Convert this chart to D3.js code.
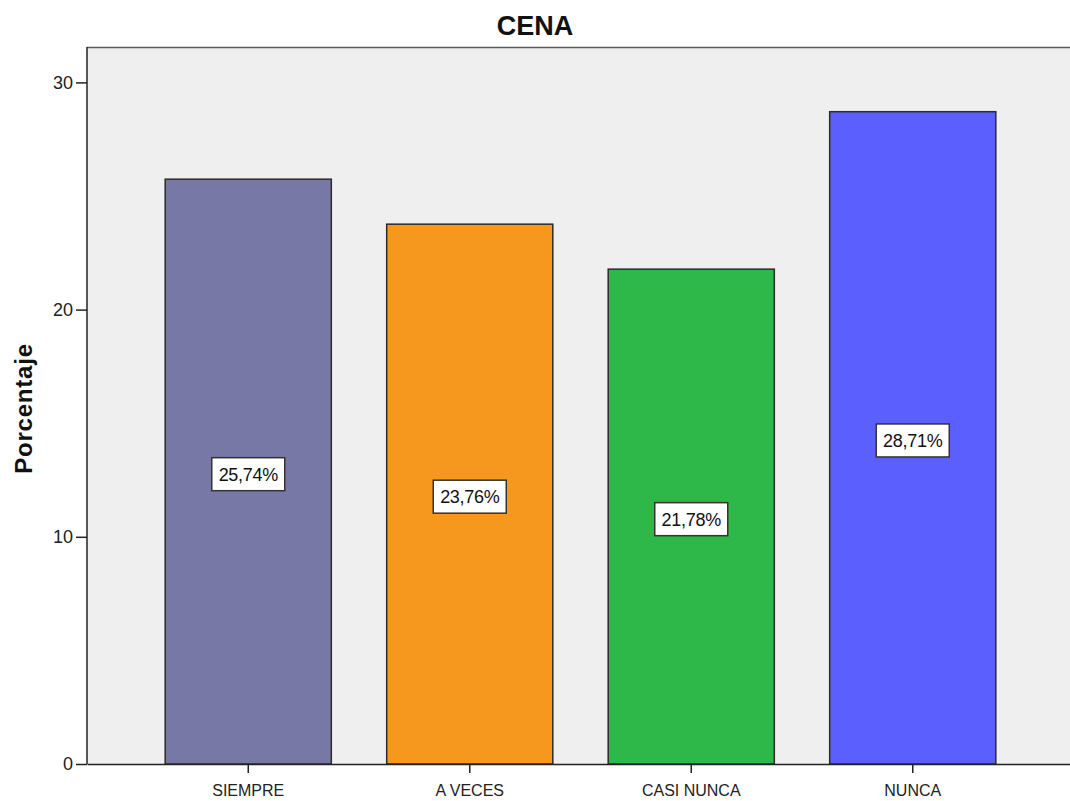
<!DOCTYPE html>
<html>
<head>
<meta charset="utf-8">
<script src="https://cdn.jsdelivr.net/npm/d3@7"></script>
<style>
  html, body { margin: 0; padding: 0; background: #ffffff; }
  svg { display: block; font-family: "Liberation Sans", Arial, sans-serif; }
</style>
</head>
<body>
<svg id="chart" width="1070" height="801"></svg>
<script>
// Cena: frequency distribution (percent)
const categories = ["SIEMPRE", "A VECES", "CASI NUNCA", "NUNCA"];
const percentages = [25.74, 23.76, 21.78, 28.71];
const barColors = ["#7878a6", "#f7981e", "#2fb84a", "#5b5ffe"];
const yTicks = [0, 10, 20, 30];

const svg = d3.select("#chart");
const plot = { left: 87, top: 47, right: 1074, bottom: 764 };

const x = d3.scaleBand()
  .domain(categories)
  .range([plot.left, plot.right])
  .paddingInner(0.25)
  .paddingOuter(0.353);

const y = d3.scaleLinear()
  .domain([0, 30])
  .range([plot.bottom, plot.bottom - 30 * 22.72]);

// plot background
svg.append("rect")
  .attr("x", plot.left).attr("y", plot.top)
  .attr("width", plot.right - plot.left).attr("height", plot.bottom - plot.top)
  .attr("fill", "#efefef");

// top frame line
svg.append("line")
  .attr("x1", plot.left).attr("x2", plot.right)
  .attr("y1", plot.top + 0.5).attr("y2", plot.top + 0.5)
  .attr("stroke", "#5a5a5a").attr("stroke-width", 1.5);

// bars
svg.append("g").selectAll("rect")
  .data(categories)
  .join("rect")
  .attr("x", d => x(d))
  .attr("y", (d, i) => y(percentages[i]))
  .attr("width", x.bandwidth())
  .attr("height", (d, i) => y(0) - y(percentages[i]))
  .attr("fill", (d, i) => barColors[i])
  .attr("stroke", "#2b2b2b")
  .attr("stroke-width", 1.5);

// y axis
const yAxis = svg.append("g")
  .attr("transform", `translate(${plot.left},0)`)
  .call(d3.axisLeft(y).tickValues(yTicks).tickSize(11).tickSizeOuter(0).tickFormat(d3.format("d")));
yAxis.select(".domain").attr("stroke", "#222").attr("stroke-width", 1.5)
  .attr("d", `M0,${plot.top}V${plot.bottom}`);
yAxis.selectAll(".tick line").attr("stroke", "#222").attr("stroke-width", 1.5);
yAxis.selectAll(".tick text")
  .attr("font-size", 18).attr("fill", "#222")
  .attr("font-family", "'Liberation Sans', Arial, sans-serif")
  .attr("x", -14);

// x axis
const xAxis = svg.append("g")
  .attr("transform", `translate(0,${plot.bottom})`)
  .call(d3.axisBottom(x).tickSize(9).tickSizeOuter(0));
xAxis.select(".domain").attr("stroke", "#222").attr("stroke-width", 1.5);
xAxis.selectAll(".tick line").attr("stroke", "#222").attr("stroke-width", 1.5);
xAxis.selectAll(".tick text")
  .attr("font-size", 16).attr("fill", "#222")
  .attr("font-family", "'Liberation Sans', Arial, sans-serif")
  .attr("y", 21);

// value labels
const fmt = v => v.toFixed(2).replace(".", ",") + "%";
const labels = svg.append("g").selectAll("g")
  .data(categories)
  .join("g")
  .attr("transform", (d, i) => `translate(${x(d) + x.bandwidth() / 2},${y(percentages[i] / 2) + 2.6})`);
labels.append("rect")
  .attr("x", -36.5).attr("y", -16.5).attr("width", 73).attr("height", 33)
  .attr("fill", "#ffffff").attr("stroke", "#333").attr("stroke-width", 1.5);
labels.append("text")
  .attr("text-anchor", "middle").attr("dy", "0.36em")
  .attr("font-size", 18).attr("fill", "#111")
  .attr("letter-spacing", -0.3)
  .text((d, i) => fmt(percentages[i]));

// title
svg.append("text")
  .attr("x", 535).attr("y", 34.5)
  .attr("text-anchor", "middle")
  .attr("font-size", 27).attr("font-weight", "bold").attr("fill", "#111")
  .text("CENA");

// y axis title
svg.append("text")
  .attr("transform", `translate(32,${(plot.top + plot.bottom) / 2 + 3}) rotate(-90)`)
  .attr("text-anchor", "middle")
  .attr("font-size", 24).attr("font-weight", "bold").attr("fill", "#111")
  .attr("letter-spacing", 0.8)
  .text("Porcentaje");
</script>
</body>
</html>
